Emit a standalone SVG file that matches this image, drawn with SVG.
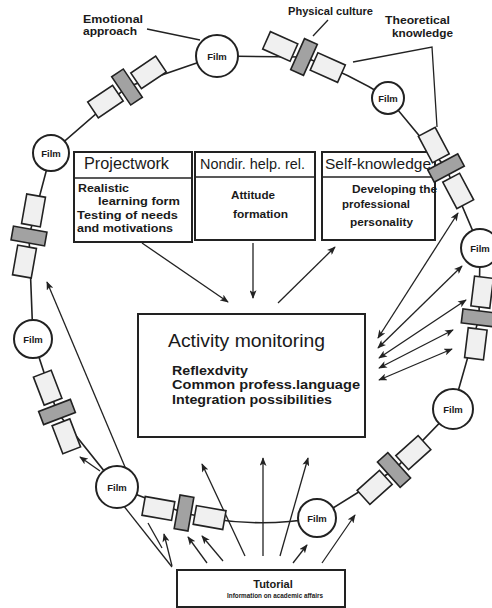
<svg xmlns="http://www.w3.org/2000/svg" width="492" height="608" viewBox="0 0 492 608">
  <defs>
    <style>
      .ln { stroke:#222; stroke-width:1.3; fill:none; }
      .ring { stroke:#222; stroke-width:1.6; fill:none; }
      .box { fill:#fff; stroke:#222; stroke-width:2; }
      .film { fill:#fff; stroke:#222; stroke-width:2; }
      .lt { fill:#f0f0f0; stroke:#222; stroke-width:1.6; }
      .dk { fill:#a2a2a2; stroke:#222; stroke-width:1.6; }
      text { font-family:"Liberation Sans", Arial, sans-serif; fill:#1a1a1a; }
      .b { font-weight:bold; }
      .fl { font-size:9.5px; font-weight:bold; text-anchor:middle; }
    </style>
    <marker id="ah" viewBox="0 0 10 8" refX="9" refY="4" markerWidth="9" markerHeight="7" markerUnits="userSpaceOnUse" orient="auto-start-reverse">
      <path d="M0,0 L10,4 L0,8 L2.5,4 z" fill="#222"/>
    </marker>
    <g id="seg">
      <rect class="lt" x="-41" y="-9.5" width="30" height="19"/>
      <rect class="dk" x="-7" y="-17" width="14" height="34"/>
      <rect class="lt" x="11" y="-9.5" width="30" height="19"/>
    </g>
  </defs>

  <rect width="492" height="608" fill="#fff"/>

  <!-- connectors -->
  <g id="connectors">
    <!-- the ring -->
    <path class="ring" d="M217,56 L127,87 L51,153 L29,236 L33,339 L57,412 L117,487 L184,513 L212,519 Q265,527 317,518 L394,470 L453,409 L479,318 L480,248 L446,168 L388,98 Q350,74 304,57 Z"/>
    <!-- label leaders -->
    <path class="ln" d="M147,29 L200,40"/>
    <path class="ln" d="M328,20 L313,36"/>
    <path class="ln" d="M353,62 L432,47 L437,127"/>
    <!-- arrows among the boxes -->
    <path class="ln" d="M142,243 L228,302" marker-end="url(#ah)"/>
    <path class="ln" d="M253,243 L253,298" marker-end="url(#ah)"/>
    <path class="ln" d="M278,303 L335,247" marker-end="url(#ah)"/>
    <!-- right fan -->
    <path class="ln" d="M378,338 L458,213" marker-start="url(#ah)" marker-end="url(#ah)"/>
    <path class="ln" d="M378,348 L462,266" marker-start="url(#ah)" marker-end="url(#ah)"/>
    <path class="ln" d="M379,358 L466,300" marker-start="url(#ah)" marker-end="url(#ah)"/>
    <path class="ln" d="M379,368 L453,330" marker-start="url(#ah)" marker-end="url(#ah)"/>
    <path class="ln" d="M379,380 L452,349" marker-start="url(#ah)" marker-end="url(#ah)"/>
    <!-- left side -->
    <path class="ln" d="M125,467 L47,282" marker-end="url(#ah)"/>
    <path class="ln" d="M100,471 L80,457" marker-end="url(#ah)"/>
    <!-- fan from the tutorial -->
    <path class="ln" d="M123,505 L172,567"/>
    <path class="ln" d="M148,523 L162,548"/>
    <path class="ln" d="M172,566 L164,534" marker-end="url(#ah)"/>
    <path class="ln" d="M207,563 L188,537" marker-end="url(#ah)"/>
    <path class="ln" d="M223,561 L202,536" marker-end="url(#ah)"/>
    <path class="ln" d="M245,556 L202,464" marker-end="url(#ah)"/>
    <path class="ln" d="M263,556 L263,458" marker-end="url(#ah)"/>
    <path class="ln" d="M280,556 L308,458" marker-end="url(#ah)"/>
    <path class="ln" d="M293,563 L307,545" marker-end="url(#ah)"/>
    <path class="ln" d="M322,563 L355,515" marker-end="url(#ah)"/>
  </g>

  <!-- content boxes -->
  <g id="projectwork">
    <rect class="box" x="74" y="152" width="118" height="90"/>
    <line class="ln" x1="74" y1="178" x2="192" y2="178" stroke-width="2"/>
    <text x="84" y="169" font-size="16" textLength="85" lengthAdjust="spacingAndGlyphs">Projectwork</text>
    <text class="b" x="78" y="192" font-size="11.5" textLength="51" lengthAdjust="spacingAndGlyphs">Realistic</text>
    <text class="b" x="98" y="205" font-size="11.5" textLength="82" lengthAdjust="spacingAndGlyphs">learning form</text>
    <text class="b" x="77" y="219" font-size="11.5" textLength="101" lengthAdjust="spacingAndGlyphs">Testing of needs</text>
    <text class="b" x="77" y="232" font-size="11.5" textLength="96" lengthAdjust="spacingAndGlyphs">and motivations</text>
  </g>
  <g id="nondirective">
    <rect class="box" x="195" y="152" width="120" height="88"/>
    <line class="ln" x1="195" y1="177" x2="315" y2="177" stroke-width="2"/>
    <text x="200" y="169" font-size="15" textLength="105" lengthAdjust="spacingAndGlyphs">Nondir. help. rel.</text>
    <text class="b" x="231" y="199" font-size="11.5" textLength="44" lengthAdjust="spacingAndGlyphs">Attitude</text>
    <text class="b" x="233" y="218" font-size="11.5" textLength="55" lengthAdjust="spacingAndGlyphs">formation</text>
  </g>
  <g id="selfknowledge">
    <rect class="box" x="322" y="152" width="113" height="88"/>
    <line class="ln" x1="322" y1="177" x2="435" y2="177" stroke-width="2"/>
    <text x="325" y="169" font-size="15" textLength="106" lengthAdjust="spacingAndGlyphs">Self-knowledge</text>
    <text class="b" x="352" y="193" font-size="11.5" textLength="85" lengthAdjust="spacingAndGlyphs">Developing the</text>
    <text class="b" x="342" y="208" font-size="11.5" textLength="68" lengthAdjust="spacingAndGlyphs">professional</text>
    <text class="b" x="350" y="226" font-size="11.5" textLength="63" lengthAdjust="spacingAndGlyphs">personality</text>
  </g>
  <g id="activity">
    <rect class="box" x="138" y="314" width="227" height="123"/>
    <text x="168" y="347" font-size="19" textLength="157" lengthAdjust="spacingAndGlyphs">Activity monitoring</text>
    <text class="b" x="172" y="375" font-size="13.5" textLength="76" lengthAdjust="spacingAndGlyphs">Reflexdvity</text>
    <text class="b" x="172" y="389" font-size="13.5" textLength="188" lengthAdjust="spacingAndGlyphs">Common profess.language</text>
    <text class="b" x="172" y="404" font-size="13.5" textLength="160" lengthAdjust="spacingAndGlyphs">Integration possibilities</text>
  </g>
  <g id="tutorial">
    <rect class="box" x="177" y="570" width="168" height="37"/>
    <text class="b" x="273" y="588" font-size="11" text-anchor="middle">Tutorial</text>
    <text class="b" x="227" y="598" font-size="7" textLength="96" lengthAdjust="spacingAndGlyphs">Information on academic affairs</text>
  </g>

  <!-- segments of the ring -->
  <g id="seg-a"><use href="#seg" transform="translate(127,87) rotate(-34)"/></g>
  <g id="seg-b"><use href="#seg" transform="translate(304,57) rotate(24)"/></g>
  <g id="seg-c"><use href="#seg" transform="translate(446,168) rotate(62)"/></g>
  <g id="seg-d"><use href="#seg" transform="translate(479,318) rotate(97)"/></g>
  <g id="seg-e"><use href="#seg" transform="translate(394,470) rotate(-42)"/></g>
  <g id="seg-f"><use href="#seg" transform="translate(184,513) rotate(10)"/></g>
  <g id="seg-g"><use href="#seg" transform="translate(29,236) rotate(100)"/></g>
  <g id="seg-h"><use href="#seg" transform="translate(57,412) rotate(69)"/></g>

  <!-- film stations -->
  <g id="film-1"><circle class="film" cx="217" cy="56" r="21"/><text class="fl" x="217" y="59.5">Film</text></g>
  <g id="film-2"><circle class="film" cx="388" cy="98" r="16"/><text class="fl" x="388" y="101.5">Film</text></g>
  <g id="film-3"><circle class="film" cx="51" cy="153" r="18"/><text class="fl" x="51" y="156.5">Film</text></g>
  <g id="film-4"><circle class="film" cx="480" cy="248" r="19"/><text class="fl" x="480" y="251.5">Film</text></g>
  <g id="film-5"><circle class="film" cx="33" cy="339" r="19"/><text class="fl" x="33" y="342.5">Film</text></g>
  <g id="film-6"><circle class="film" cx="453" cy="409" r="20"/><text class="fl" x="453" y="412.5">Film</text></g>
  <g id="film-7"><circle class="film" cx="117" cy="487" r="21"/><text class="fl" x="117" y="490.5">Film</text></g>
  <g id="film-8"><circle class="film" cx="317" cy="518" r="19"/><text class="fl" x="317" y="521.5">Film</text></g>

  <!-- labels -->
  <g id="labels">
    <text class="b" x="83" y="23" font-size="11" textLength="60" lengthAdjust="spacingAndGlyphs">Emotional</text>
    <text class="b" x="83" y="35" font-size="11" textLength="54" lengthAdjust="spacingAndGlyphs">approach</text>
    <text class="b" x="288" y="15" font-size="11" textLength="85" lengthAdjust="spacingAndGlyphs">Physical culture</text>
    <text class="b" x="385" y="24" font-size="11" textLength="65" lengthAdjust="spacingAndGlyphs">Theoretical</text>
    <text class="b" x="392" y="37" font-size="11" textLength="61" lengthAdjust="spacingAndGlyphs">knowledge</text>
  </g>
</svg>
